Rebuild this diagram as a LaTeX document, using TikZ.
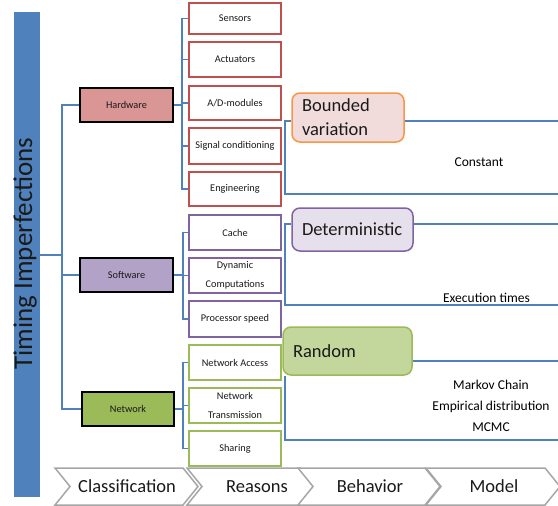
\documentclass[tikz,border=0pt]{standalone}
\usepackage{fontspec}
\setmainfont{Carlito}
\definecolor{bblue}{HTML}{4F81BD}
\definecolor{hwfill}{HTML}{D99694}
\definecolor{swfill}{HTML}{B3A2C7}
\definecolor{nwfill}{HTML}{9BBB59}
\definecolor{hwline}{HTML}{C0504D}
\definecolor{swline}{HTML}{8064A2}
\definecolor{nwline}{HTML}{9BBB59}
\definecolor{bvfill}{HTML}{F2DCDB}
\definecolor{bvline}{HTML}{F79646}
\definecolor{detfill}{HTML}{E6E0EC}
\definecolor{rndfill}{HTML}{C3D69B}
\definecolor{chevline}{HTML}{A6A6A6}
\definecolor{txt}{HTML}{1A1A1A}
\begin{document}
\begin{tikzpicture}[x=1pt,y=-1pt,
  conn/.style={draw=bblue, line width=1.5pt},
  clsbox/.style={draw=black, line width=2pt, minimum width=93pt, minimum height=34pt, inner sep=1pt, font=\fontsize{10.3}{12}\selectfont, text=txt},
  reason/.style={draw, fill=white, line width=1.3pt, minimum width=92pt, minimum height=34pt, inner sep=1pt, align=center, font=\fontsize{10.3}{19}\selectfont, text=txt},
  behbox/.style={rounded corners=8pt, line width=1.5pt, align=left, font=\fontsize{18.5}{24}\selectfont, inner xsep=10pt, inner ysep=0pt, text=txt},
  chev/.style={draw=chevline, fill=white, line width=1.5pt, line join=miter},
  chevtext/.style={font=\fontsize{18.5}{20}\selectfont, text=txt},
  modeltext/.style={font=\fontsize{13.5}{21}\selectfont, align=center, text=black}]
\useasboundingbox (0,0) rectangle (558,506);

% bar
\node[fill=bblue, minimum width=26.5pt, minimum height=485pt, inner sep=0pt] (bar) at (26.75,254.75) {};
\node[rotate=90, font=\fontsize{27}{29}\selectfont, text=txt, inner sep=0pt] (title) at (25,253.5) {Timing Imperfections};

% classification boxes
\node[clsbox, fill=hwfill] (hw) at (126.5,105) {Hardware};
\node[clsbox, fill=swfill] (sw) at (126.5,275) {Software};
\node[clsbox, fill=nwfill, minimum width=92pt] (nw) at (128,409) {Network};

% reasons
\node[reason, draw=hwline, minimum height=31pt] (r1) at (235,18.5) {Sensors};
\node[reason, draw=hwline, minimum height=35pt] (r2) at (235,59.5) {Actuators};
\node[reason, draw=hwline] (r3) at (235,103) {A/D-modules};
\node[reason, draw=hwline, minimum height=36pt] (r4) at (235,146) {Signal conditioning};
\node[reason, draw=hwline] (r5) at (235,189) {Engineering};
\node[reason, draw=swline, minimum height=35pt] (r6) at (235,232.5) {Cache};
\node[reason, draw=swline, minimum height=35pt] (r7) at (235,275.5) {Dynamic\\Computations};
\node[reason, draw=swline, minimum height=36pt] (r8) at (235,319) {Processor speed};
\node[reason, draw=nwline, minimum height=35pt] (r9) at (235,362.5) {Network Access};
\node[reason, draw=nwline, minimum height=35pt] (r10) at (235,405.5) {Network\\Transmission};
\node[reason, draw=nwline, minimum height=35pt] (r11) at (235,448.5) {Sharing};

% behaviour boxes
\node[behbox, draw=bvline, fill=bvfill, text width=92pt, minimum height=49pt] (bv) at (348,117.5) {Bounded\\variation};
\node[behbox, draw=swline, fill=detfill, text width=101pt, minimum height=43pt] (det) at (352.5,229.5) {Deterministic};
\node[behbox, draw=nwline, fill=rndfill, text width=109pt, minimum height=48pt] (rnd) at (347.5,351) {Random};

% model texts
\node[modeltext] (m1) at (479,162.5) {Constant};
\node[modeltext] (m2) at (486.5,298) {Execution times};
\node[modeltext] (m3) at (491,406) {Markov Chain\\Empirical distribution\\MCMC};

% main tree
\coordinate (tr) at ([xshift=22pt]bar.east);
\draw[conn] (bar.east) -- (tr);
\foreach \n in {hw,sw,nw} \draw[conn] (tr) |- (\n.west);

% reasons connectors
\coordinate (hwj) at ([xshift=8pt]hw.east);
\draw[conn] (hw.east) -- (hwj);
\foreach \n in {r1,r2,r3,r4,r5} \draw[conn] (hwj) |- (\n.west);
\coordinate (swj) at ([xshift=9pt]sw.east);
\draw[conn] (sw.east) -- (swj);
\foreach \n in {r6,r7,r8} \draw[conn] (swj) |- (\n.west);
\coordinate (nwj) at ([xshift=8pt]nw.east);
\draw[conn] (nw.east) -- (nwj);
\foreach \n in {r9,r10,r11} \draw[conn] (nwj) |- (\n.west);

% behaviour brackets
\coordinate (bvT) at (285,121);
\coordinate (bvB) at (285,194);
\coordinate (bvTR) at (560,121);
\coordinate (bvBR) at (560,194);
\draw[conn] (bv.west |- bvT) -- (bvT) -- (bvB) -- (bvBR);
\draw[conn] (bv.east |- bvT) -- (bvTR);

\coordinate (dT) at (285,224);
\coordinate (dB) at (285,305);
\coordinate (dTR) at (560,224);
\coordinate (dBR) at (560,305);
\draw[conn] (det.west |- dT) -- (dT) -- (dB) -- (dBR);
\draw[conn] (det.east |- dT) -- (dTR);

\coordinate (rT) at (285,361);
\coordinate (rB) at (285,440);
\coordinate (rTR) at (560,361);
\coordinate (rBR) at (560,440);
\draw[conn] (rnd.south -| rT) -- (rB) -- (rBR);
\draw[conn] (rnd.east |- rT) -- (rTR);

% chevrons
\foreach \L/\R/\T/\tx/\nm in {55/183/Classification/127/c1, 187/300/Reasons/257/c2, 298/425/Behavior/370/c3, 426/545/Model/494/c4}{
  \draw[chev] (\L,468) -- (\R,468) -- (\R+15,486.5) -- (\R,505) -- (\L,505) -- (\L+15,486.5) -- cycle;
  \node[chevtext] (\nm) at (\tx,486.5) {\T};
}
\end{tikzpicture}
\end{document}
